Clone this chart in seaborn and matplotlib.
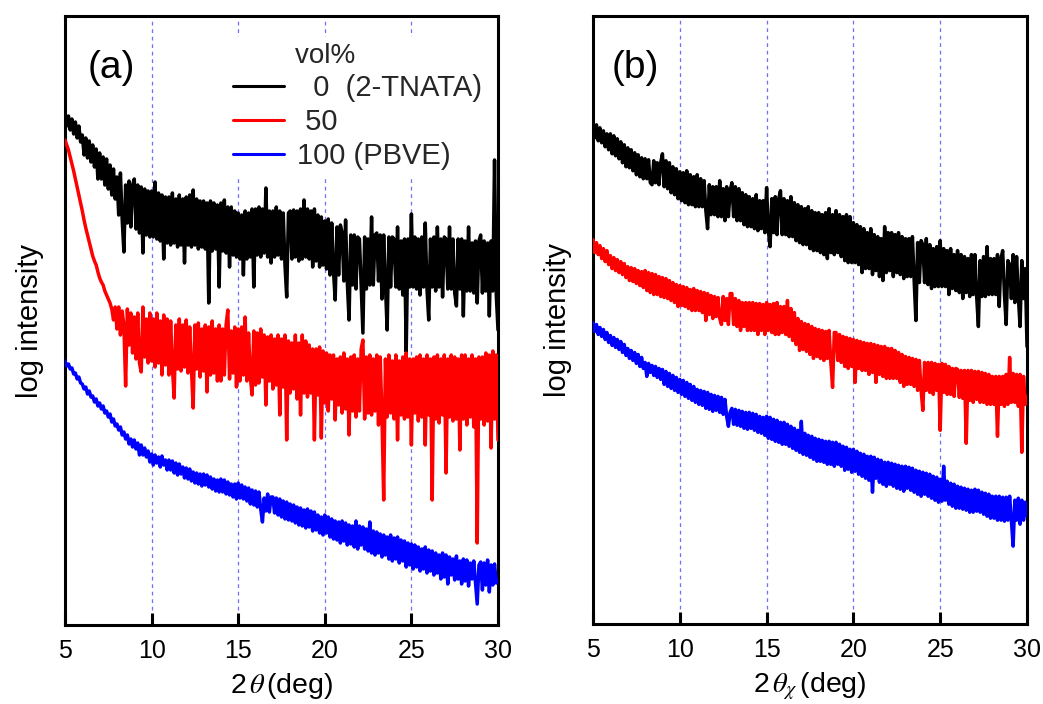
import numpy as np
import matplotlib
matplotlib.use("Agg")
import matplotlib.pyplot as plt
import seaborn as sns

# ---------------- data (y in arbitrary log-intensity units) -------------
two_theta = np.round(np.arange(5.0, 30.0001, 0.1), 1)   # 251 scan positions

# panel (a): out-of-plane 2theta scans
a_0vol = [513, 499, 509, 495, 506, 491, 503, 487, 499, 483,
          490, 470, 487, 467, 484, 463, 480, 458, 476, 446,
          472, 446, 468, 440, 466, 436, 460, 430, 456, 426,
          448, 410, 452, 406, 373, 440, 402, 444, 398, 440,
          446, 396, 440, 392, 438, 372, 436, 390, 434, 388,
          434, 388, 443, 386, 432, 384, 430, 366, 428, 382,
          428, 380, 432, 382, 426, 378, 430, 380, 426, 362,
          428, 380, 430, 378, 435, 380, 426, 376, 424, 378,
          424, 376, 422, 322, 424, 374, 422, 376, 420, 338,
          422, 374, 425, 372, 418, 358, 418, 370, 414, 368,
          412, 366, 410, 350, 414, 366, 412, 368, 416, 338,
          416, 370, 418, 368, 416, 372, 437, 368, 414, 362,
          414, 368, 418, 370, 414, 366, 412, 360, 328, 412,
          414, 366, 415, 368, 414, 364, 416, 366, 425, 368,
          416, 366, 414, 358, 416, 364, 410, 358, 408, 360,
          404, 356, 406, 350, 402, 354, 325, 398, 350, 400,
          392, 344, 405, 342, 305, 390, 340, 390, 336, 388,
          386, 338, 292, 388, 336, 386, 340, 408, 340, 390,
          392, 344, 390, 326, 390, 340, 295, 388, 338, 388,
          386, 338, 398, 336, 384, 330, 386, 273, 386, 338,
          411, 338, 388, 336, 386, 330, 388, 338, 402, 336,
          305, 386, 338, 388, 334, 398, 338, 386, 328, 388,
          386, 336, 398, 336, 386, 332, 319, 386, 336, 386,
          309, 384, 334, 398, 334, 382, 332, 384, 322, 384,
          390, 332, 384, 334, 382, 309, 384, 334, 465, 330,
          295]
a_50vol = [485, 480, 475, 468, 461, 454, 446, 438, 430, 422,
           414, 405, 397, 390, 383, 376, 369, 364, 360, 353,
           347, 343, 340, 334, 330, 326, 322, 316, 305, 318,
           296, 318, 290, 314, 300, 239, 316, 280, 312, 272,
           308, 266, 312, 262, 253, 318, 268, 306, 262, 312,
           264, 306, 258, 312, 262, 304, 250, 310, 260, 306,
           250, 304, 258, 227, 300, 256, 306, 254, 300, 258,
           305, 252, 298, 256, 217, 300, 256, 302, 248, 296,
           254, 300, 233, 298, 250, 304, 252, 296, 244, 300,
           244, 296, 250, 300, 315, 246, 294, 252, 298, 238,
           296, 244, 298, 250, 308, 244, 292, 248, 230, 294,
           240, 292, 242, 296, 248, 290, 220, 288, 244, 290,
           236, 286, 240, 290, 210, 286, 238, 290, 185, 284,
           232, 282, 236, 290, 226, 282, 210, 290, 232, 284,
           228, 280, 232, 276, 185, 276, 230, 278, 187, 274,
           222, 272, 214, 270, 226, 270, 205, 266, 220, 268,
           212, 272, 216, 266, 190, 268, 214, 270, 208, 266,
           214, 276, 285, 206, 268, 212, 270, 210, 266, 214,
           270, 200, 268, 210, 125, 266, 208, 270, 212, 264,
           206, 270, 185, 264, 210, 268, 206, 272, 208, 266,
           180, 266, 212, 268, 204, 270, 208, 266, 180, 270,
           210, 266, 125, 268, 206, 270, 202, 266, 210, 270,
           152, 266, 208, 270, 204, 268, 206, 266, 175, 270,
           206, 270, 200, 266, 208, 270, 198, 266, 82, 268,
           206, 268, 200, 272, 204, 270, 177, 274, 206, 270,
           185]
a_100vol = [264, 259, 261, 256, 257, 251, 252, 246, 248, 242,
            241, 236, 238, 231, 234, 228, 229, 223, 226, 219,
            222, 216, 219, 212, 214, 208, 211, 203, 206, 199,
            201, 195, 198, 190, 193, 186, 190, 181, 186, 178,
            185, 176, 182, 170, 180, 170, 177, 168, 174, 163,
            171, 160, 170, 162, 168, 158, 169, 160, 165, 155,
            165, 155, 164, 152, 162, 150, 161, 151, 158, 147,
            157, 146, 156, 144, 153, 142, 152, 141, 151, 139,
            151, 140, 150, 138, 148, 136, 146, 134, 145, 133,
            146, 133, 145, 131, 143, 130, 141, 128, 141, 126,
            142, 127, 140, 126, 138, 124, 137, 121, 135, 120,
            134, 118, 133, 116, 103, 127, 114, 131, 113, 128,
            128, 112, 127, 110, 126, 108, 124, 106, 123, 105,
            121, 104, 120, 102, 118, 100, 117, 99, 115, 97,
            116, 98, 114, 94, 113, 95, 110, 92, 108, 90,
            110, 92, 108, 88, 106, 86, 104, 85, 103, 82,
            104, 84, 102, 80, 100, 81, 99, 78, 104, 76,
            99, 80, 98, 76, 96, 74, 103, 72, 94, 70,
            93, 72, 91, 68, 90, 70, 88, 66, 90, 64,
            87, 66, 88, 62, 85, 64, 84, 58, 82, 60,
            81, 56, 80, 58, 78, 54, 76, 56, 78, 52,
            75, 54, 74, 50, 72, 52, 70, 46, 72, 48,
            70, 41, 68, 50, 66, 45, 69, 46, 64, 41,
            66, 44, 65, 39, 62, 46, 64, 42, 21, 60,
            63, 35, 62, 40, 65, 33, 60, 40, 61, 42,
            45]

# panel (b): in-plane 2theta_chi scans
b_0vol = [502, 487, 500, 484, 497, 482, 494, 478, 491, 475,
          491, 471, 489, 469, 486, 466, 483, 462, 480, 458,
          477, 457, 475, 454, 472, 450, 470, 448, 467, 446,
          466, 446, 465, 442, 440, 464, 442, 462, 440, 462,
          471, 438, 464, 436, 462, 432, 458, 430, 456, 426,
          453, 424, 452, 422, 454, 420, 450, 420, 448, 418,
          450, 418, 446, 418, 444, 414, 396, 440, 410, 438,
          410, 438, 408, 444, 408, 436, 404, 438, 408, 434,
          442, 408, 438, 404, 436, 404, 432, 400, 430, 398,
          428, 398, 426, 396, 430, 394, 424, 396, 424, 392,
          437, 394, 378, 426, 392, 428, 390, 426, 434, 390,
          426, 390, 424, 388, 428, 388, 422, 384, 420, 382,
          418, 380, 416, 380, 418, 376, 414, 374, 412, 374,
          412, 372, 410, 370, 412, 366, 416, 372, 410, 370,
          414, 372, 410, 368, 408, 364, 410, 362, 408, 362,
          402, 362, 400, 360, 398, 352, 396, 356, 392, 356,
          396, 350, 390, 354, 388, 348, 386, 344, 398, 352,
          392, 354, 392, 348, 390, 352, 392, 350, 388, 346,
          386, 348, 386, 348, 388, 344, 304, 382, 342, 384,
          380, 342, 386, 340, 380, 336, 376, 338, 378, 338,
          384, 338, 376, 338, 374, 330, 376, 336, 370, 334,
          374, 332, 370, 326, 368, 332, 366, 328, 370, 330,
          370, 328, 298, 364, 328, 368, 328, 378, 330, 366,
          330, 366, 330, 370, 318, 366, 374, 330, 300, 364,
          360, 326, 370, 322, 368, 328, 298, 364, 326, 356,
          278]
b_50vol = [385, 372, 382, 370, 379, 366, 376, 363, 374, 360,
           369, 356, 367, 354, 365, 352, 363, 350, 361, 347,
           358, 344, 357, 343, 356, 341, 354, 339, 353, 337,
           354, 334, 352, 332, 351, 330, 350, 330, 348, 328,
           347, 327, 346, 326, 344, 324, 342, 322, 340, 318,
           339, 319, 338, 318, 337, 316, 335, 314, 336, 314,
           334, 314, 333, 312, 332, 304, 331, 310, 329, 306,
           328, 308, 327, 306, 300, 328, 304, 326, 300, 331,
           331, 300, 326, 298, 324, 294, 322, 298, 322, 294,
           322, 294, 322, 294, 321, 290, 321, 294, 320, 290,
           322, 294, 320, 292, 321, 290, 322, 290, 318, 292,
           318, 290, 324, 288, 316, 284, 312, 280, 306, 274,
           303, 275, 301, 273, 300, 270, 298, 266, 296, 268,
           295, 266, 294, 264, 293, 266, 294, 262, 237, 292,
           292, 264, 290, 262, 288, 258, 287, 256, 286, 258,
           285, 242, 284, 256, 283, 254, 282, 254, 281, 250,
           281, 252, 280, 242, 279, 250, 278, 248, 278, 246,
           276, 246, 276, 246, 274, 246, 272, 242, 270, 238,
           268, 240, 267, 240, 266, 238, 265, 234, 264, 234,
           214, 262, 234, 262, 232, 262, 230, 261, 234, 260,
           194, 261, 232, 260, 230, 258, 230, 256, 228, 256,
           255, 227, 254, 226, 254, 181, 254, 224, 254, 222,
           253, 225, 253, 222, 252, 222, 251, 220, 250, 220,
           248, 220, 248, 188, 248, 220, 248, 218, 250, 220,
           267, 222, 251, 222, 250, 218, 250, 172, 248, 220,
           228]
b_100vol = [302, 293, 300, 290, 297, 288, 295, 285, 292, 282,
            289, 279, 287, 277, 285, 275, 283, 272, 280, 269,
            276, 266, 274, 264, 272, 261, 270, 258, 267, 256,
            262, 248, 261, 252, 259, 249, 258, 247, 256, 245,
            255, 240, 253, 238, 251, 236, 249, 234, 247, 232,
            245, 230, 244, 228, 242, 226, 240, 224, 238, 222,
            235, 220, 234, 219, 233, 216, 232, 215, 230, 213,
            229, 214, 228, 212, 227, 210, 225, 208, 198, 212,
            216, 200, 215, 199, 214, 198, 213, 196, 212, 195,
            212, 196, 211, 194, 210, 192, 208, 191, 207, 189,
            208, 186, 207, 185, 205, 183, 204, 182, 202, 180,
            202, 180, 200, 178, 198, 176, 196, 174, 194, 172,
            203, 170, 191, 169, 189, 167, 188, 165, 186, 163,
            185, 163, 184, 162, 183, 160, 183, 160, 182, 158,
            182, 160, 180, 158, 178, 154, 177, 155, 175, 152,
            175, 153, 173, 150, 171, 148, 170, 146, 168, 144,
            168, 132, 167, 146, 165, 142, 164, 140, 162, 138,
            162, 140, 161, 138, 160, 136, 159, 135, 158, 133,
            158, 136, 157, 134, 156, 132, 154, 130, 153, 128,
            152, 130, 151, 128, 150, 126, 148, 124, 147, 122,
            145, 123, 158, 124, 143, 120, 141, 118, 140, 116,
            138, 116, 137, 115, 136, 114, 135, 112, 134, 112,
            135, 113, 134, 112, 132, 110, 131, 108, 130, 106,
            128, 106, 128, 104, 128, 104, 127, 103, 127, 104,
            128, 104, 78, 124, 104, 126, 100, 124, 104, 122,
            108]

series_labels = ["  0  (2-TNATA)", " 50", "100 (PBVE)"]
series_colors = ["#000000", "#ff0000", "#0000ff"]
x_ticks = [5, 10, 15, 20, 25, 30]
grid_positions = [10, 15, 20, 25]

# ---------------- styling ----------------
sns.set_theme(style="white")
plt.rcParams["font.family"] = ["Liberation Sans", "DejaVu Sans"]
plt.rcParams["mathtext.fontset"] = "stix"

W, H = 1043, 704
fig = plt.figure(figsize=(W / 100, H / 100), dpi=100)
fig.patch.set_facecolor("white")

ax_a = fig.add_axes([65 / W, (H - 625) / H, 433 / W, 609 / H])
ax_b = fig.add_axes([593 / W, (H - 624) / H, 434 / W, 608 / H])

panels = [
    (ax_a, [a_0vol, a_50vol, a_100vol], "(a)", 0.053, "2$\\,\\theta\\,$(deg)"),
    (ax_b, [b_0vol, b_50vol, b_100vol], "(b)", 0.044, "2$\\,\\theta_{\\chi}\\,$(deg)"),
]

for ax, data, tag, tagx, xlabel in panels:
    for gx in grid_positions:
        ax.axvline(gx, color="#6f6fff", lw=0.9, ls=(0, (3, 3)), zorder=0)
    for vals, lab, col in zip(data, series_labels, series_colors):
        sns.lineplot(x=two_theta, y=np.array(vals, dtype=float), ax=ax, color=col,
                     linewidth=2.5, label=lab if ax is ax_a else None, legend=False, zorder=3)
    ax.set_xlim(5, 30)
    ax.set_ylim(0, 609)
    ax.set_xticks(x_ticks)
    ax.set_xticklabels([str(t) for t in x_ticks])
    ax.set_yticks([])
    ax.tick_params(axis="x", direction="in", length=9, width=2.2, labelsize=18, pad=10,
                   colors="black", bottom=True, top=False)
    for sp in ax.spines.values():
        sp.set_visible(True)
        sp.set_color("black")
        sp.set_linewidth(2.2)
    ax.set_xlabel(xlabel, fontsize=20.5, labelpad=6, color="black")
    ax.set_ylabel("log intensity", fontsize=21, labelpad=15, color="black")
    ax.text(tagx, 0.915, tag, transform=ax.transAxes, fontsize=28, ha="left", va="center",
            color="black")

handles, labels = ax_a.get_legend_handles_labels()
leg = ax_a.legend(handles, labels, title="        vol%", loc="upper left",
                  bbox_to_anchor=(0.374, 0.966), fontsize=21, title_fontsize=20,
                  alignment="left", handlelength=1.75, handletextpad=0.45, labelspacing=0.2,
                  borderpad=0.2, frameon=True, fancybox=False, framealpha=1.0,
                  facecolor="white", edgecolor="none", borderaxespad=0)
for ln in leg.get_lines():
    ln.set_linewidth(2.2)
leg.set_zorder(5)

fig.savefig("out.png", dpi=100, facecolor="white")
